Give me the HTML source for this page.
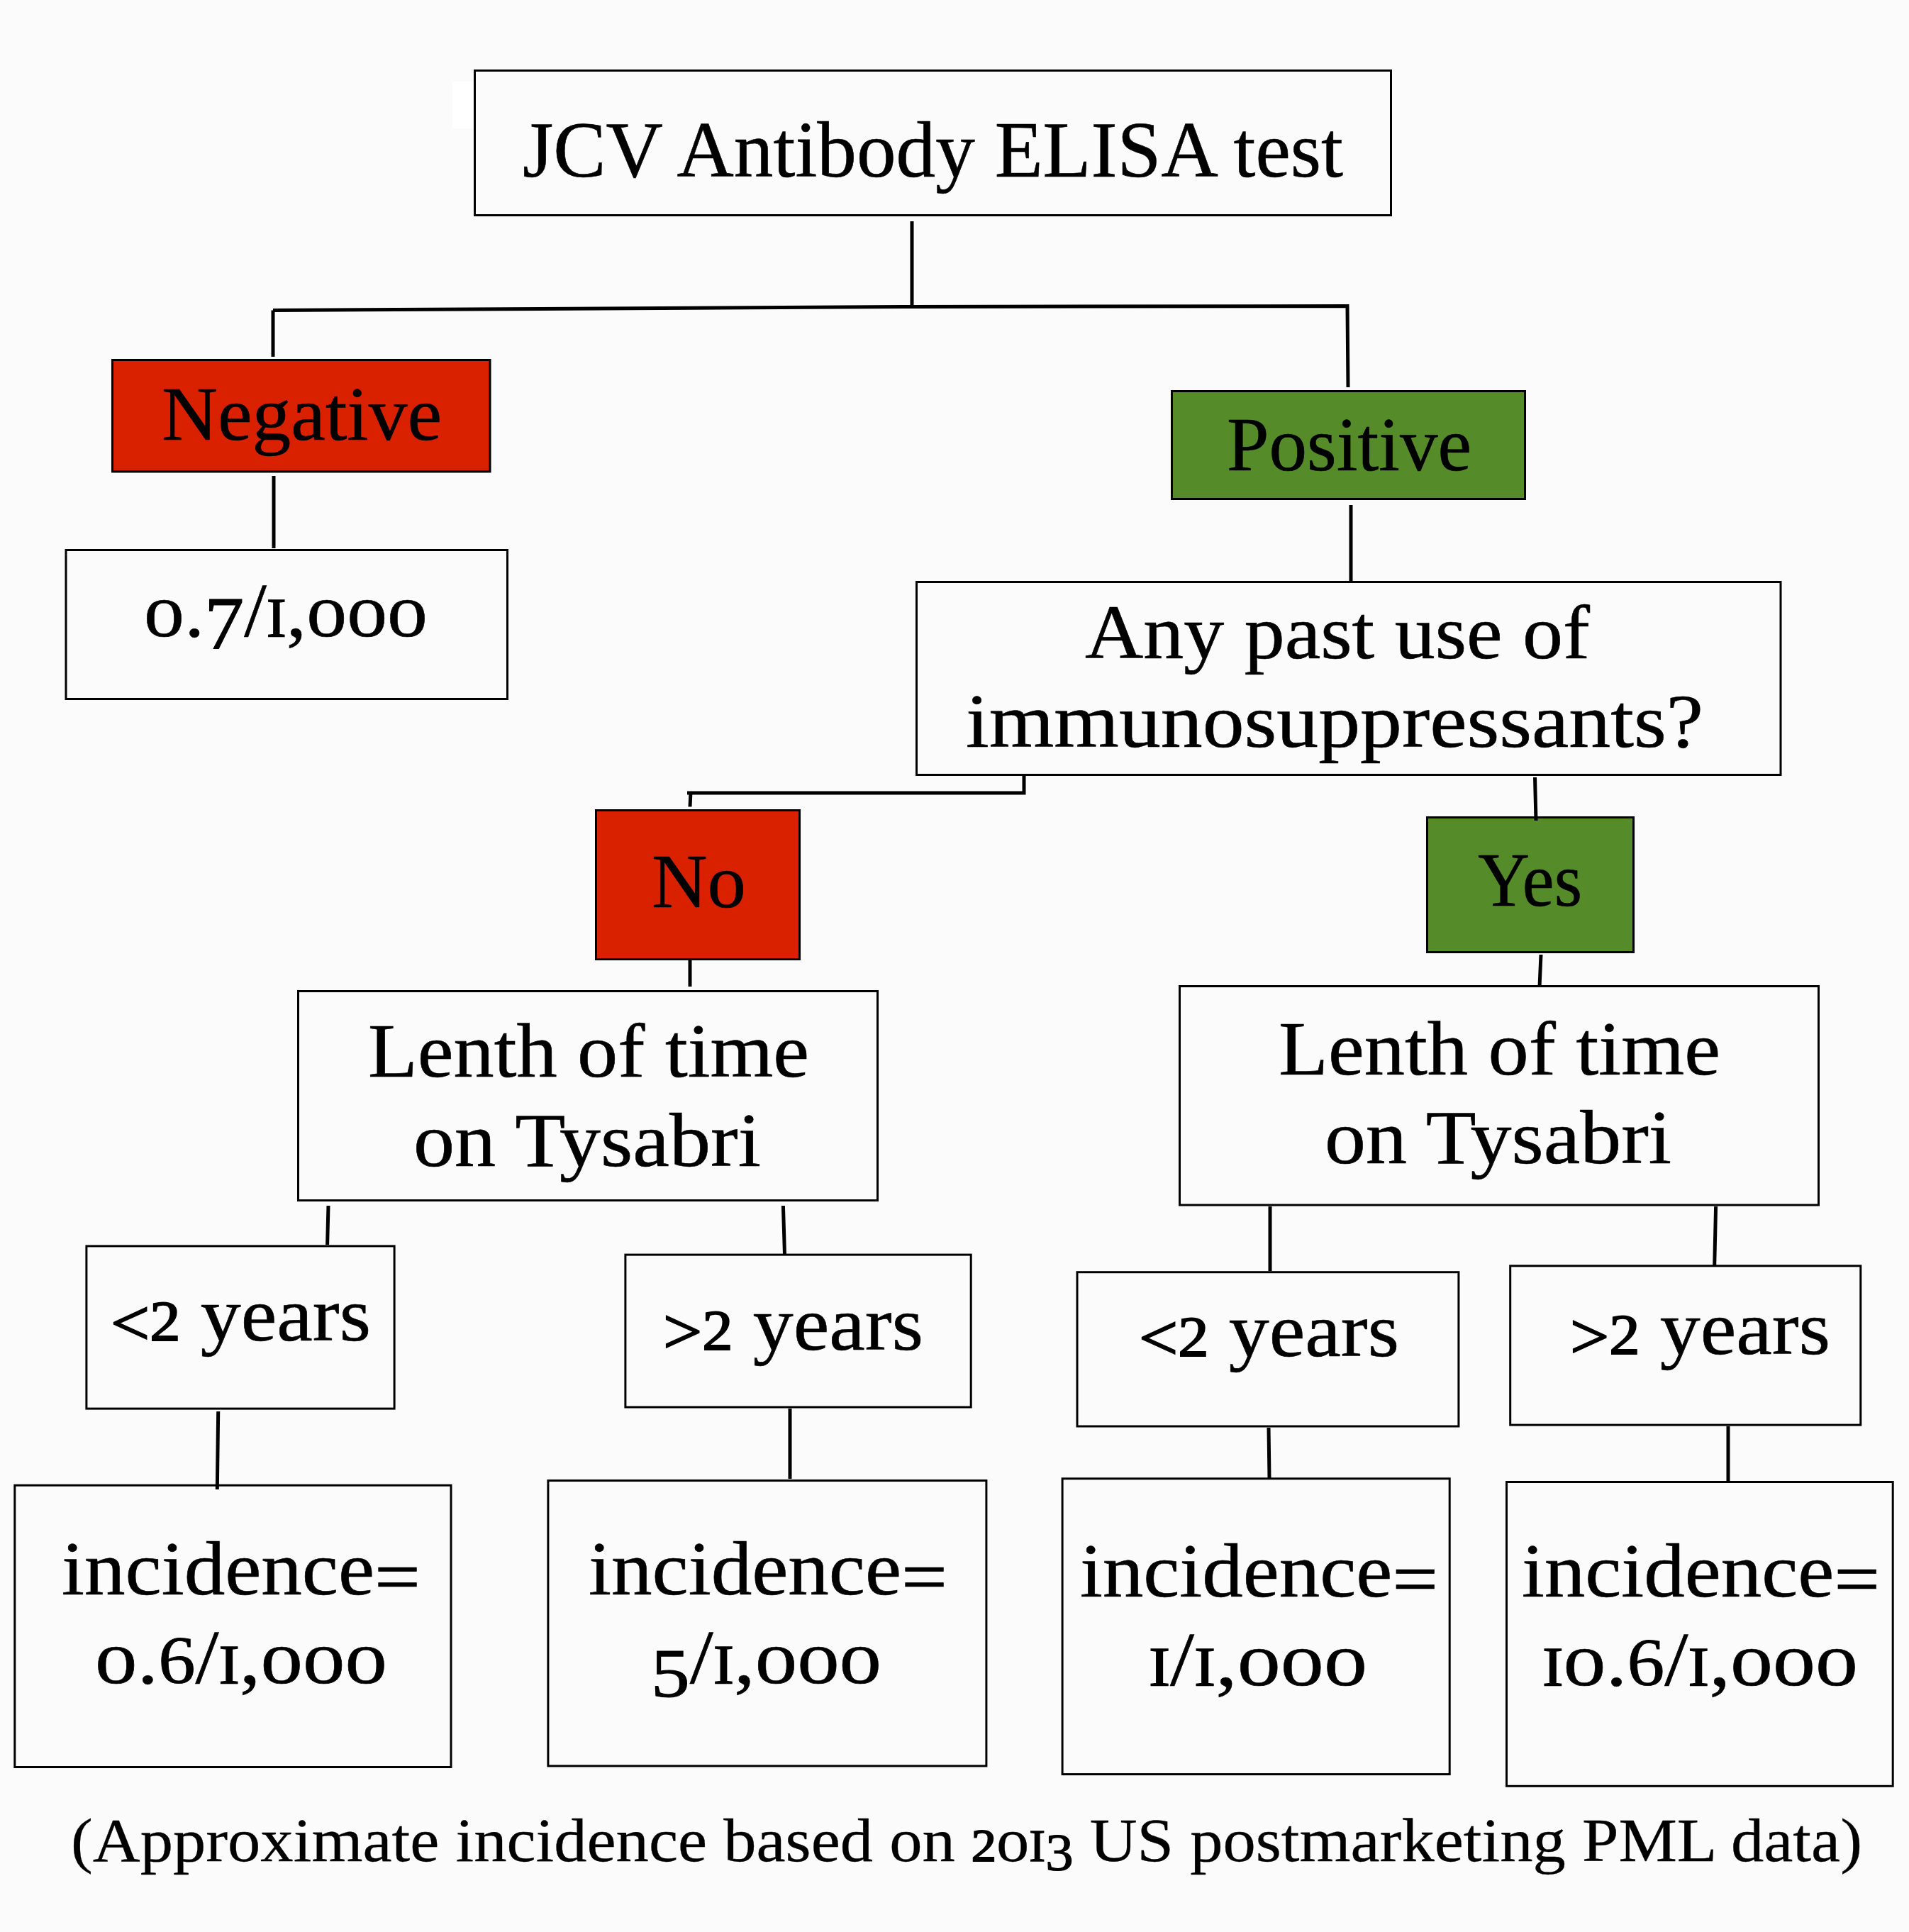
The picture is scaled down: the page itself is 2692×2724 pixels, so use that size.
<!DOCTYPE html>
<html><head><meta charset="utf-8"><title>JCV Antibody ELISA test</title>
<style>
html,body{margin:0;padding:0;background:#fbfbfb;}
body{width:2692px;height:2724px;overflow:hidden;}
svg{display:block;}
text{font-family:"Liberation Serif",serif;fill:#000;}
</style></head><body>
<svg width="2692" height="2724" viewBox="0 0 2692 2724">
<rect x="0" y="0" width="2692" height="2724" fill="#fbfbfb"/>
<rect x="638" y="115" width="30" height="66" fill="#ffffff"/>
<rect x="669.5" y="99.5" width="1292.0" height="204.0" fill="#fbfbfb" stroke="#000" stroke-width="3.0"/>
<rect x="158.5" y="507.5" width="532.5" height="157.5" fill="#d92100" stroke="#000" stroke-width="3.0"/>
<rect x="93.0" y="775.5" width="622.5" height="210.0" fill="#fbfbfb" stroke="#000" stroke-width="3.0"/>
<rect x="1652.5" y="551.5" width="498.0" height="152.0" fill="#558b29" stroke="#000" stroke-width="3.0"/>
<rect x="1292.5" y="820.5" width="1218.5" height="272.0" fill="#fbfbfb" stroke="#000" stroke-width="3.0"/>
<rect x="840.5" y="1142.5" width="287.0" height="210.0" fill="#d92100" stroke="#000" stroke-width="3.0"/>
<rect x="2012.5" y="1152.5" width="291.0" height="190.0" fill="#558b29" stroke="#000" stroke-width="3.0"/>
<rect x="420.5" y="1397.5" width="817.0" height="295.0" fill="#fbfbfb" stroke="#000" stroke-width="3.0"/>
<rect x="1663.5" y="1390.5" width="901.0" height="308.5" fill="#fbfbfb" stroke="#000" stroke-width="3.0"/>
<rect x="121.9" y="1756.9" width="434.2" height="229.2" fill="#fbfbfb" stroke="#000" stroke-width="3.0"/>
<rect x="881.9" y="1769.1" width="487.3" height="214.9" fill="#fbfbfb" stroke="#000" stroke-width="3.0"/>
<rect x="1519.0" y="1793.7" width="537.9" height="217.3" fill="#fbfbfb" stroke="#000" stroke-width="3.0"/>
<rect x="2129.7" y="1784.8" width="494.1" height="224.3" fill="#fbfbfb" stroke="#000" stroke-width="3.0"/>
<rect x="20.8" y="2094.2" width="615.2" height="397.3" fill="#fbfbfb" stroke="#000" stroke-width="3.0"/>
<rect x="772.9" y="2087.5" width="618.0" height="402.4" fill="#fbfbfb" stroke="#000" stroke-width="3.0"/>
<rect x="1498.1" y="2084.8" width="546.1" height="416.8" fill="#fbfbfb" stroke="#000" stroke-width="3.0"/>
<rect x="2124.5" y="2089.5" width="544.7" height="428.8" fill="#fbfbfb" stroke="#000" stroke-width="3.0"/>
<polyline points="1286,312 1286,433" fill="none" stroke="#000" stroke-width="5" stroke-linejoin="miter" stroke-linecap="butt"/>
<polyline points="385,437.5 1286,432.5 1900,431.5 1901,546" fill="none" stroke="#000" stroke-width="5" stroke-linejoin="miter" stroke-linecap="butt"/>
<polyline points="385,437.5 385,503" fill="none" stroke="#000" stroke-width="5" stroke-linejoin="miter" stroke-linecap="butt"/>
<polyline points="386,671 386,773" fill="none" stroke="#000" stroke-width="5" stroke-linejoin="miter" stroke-linecap="butt"/>
<polyline points="1905,712 1905,822" fill="none" stroke="#000" stroke-width="5" stroke-linejoin="miter" stroke-linecap="butt"/>
<polyline points="1444,1094 1444,1118 969,1118" fill="none" stroke="#000" stroke-width="5" stroke-linejoin="miter" stroke-linecap="butt"/>
<polyline points="974,1116 973,1137.5" fill="none" stroke="#000" stroke-width="5" stroke-linejoin="miter" stroke-linecap="butt"/>
<polyline points="2164.5,1096 2166,1157" fill="none" stroke="#000" stroke-width="5" stroke-linejoin="miter" stroke-linecap="butt"/>
<polyline points="973,1354 973,1391" fill="none" stroke="#000" stroke-width="5" stroke-linejoin="miter" stroke-linecap="butt"/>
<polyline points="2173,1346 2171,1391" fill="none" stroke="#000" stroke-width="5" stroke-linejoin="miter" stroke-linecap="butt"/>
<polyline points="463,1700 461.6,1755" fill="none" stroke="#000" stroke-width="5" stroke-linejoin="miter" stroke-linecap="butt"/>
<polyline points="1104.4,1700 1106.5,1768" fill="none" stroke="#000" stroke-width="5" stroke-linejoin="miter" stroke-linecap="butt"/>
<polyline points="1791,1701 1791,1792" fill="none" stroke="#000" stroke-width="5" stroke-linejoin="miter" stroke-linecap="butt"/>
<polyline points="2419.6,1701 2417.7,1784" fill="none" stroke="#000" stroke-width="5" stroke-linejoin="miter" stroke-linecap="butt"/>
<polyline points="307.7,1990 306.3,2100" fill="none" stroke="#000" stroke-width="5" stroke-linejoin="miter" stroke-linecap="butt"/>
<polyline points="1114,1986 1114,2085" fill="none" stroke="#000" stroke-width="5" stroke-linejoin="miter" stroke-linecap="butt"/>
<polyline points="1789,2013 1790,2084" fill="none" stroke="#000" stroke-width="5" stroke-linejoin="miter" stroke-linecap="butt"/>
<polyline points="2437,2011 2437,2088" fill="none" stroke="#000" stroke-width="5" stroke-linejoin="miter" stroke-linecap="butt"/>
<text x="737.0" y="248.7" font-size="112" textLength="1157.0" lengthAdjust="spacingAndGlyphs" stroke="#000" stroke-width="0.6"><tspan>JCV Antibody ELISA test</tspan></text>
<text x="228.0" y="620.1" font-size="107" textLength="395.0" lengthAdjust="spacingAndGlyphs" stroke="#000" stroke-width="0.6"><tspan>Negative</tspan></text>
<text x="203.0" y="896.8" font-size="107" textLength="400.0" lengthAdjust="spacingAndGlyphs" stroke="#000" stroke-width="0.6"><tspan>o.</tspan><tspan font-size="104.9" dy="18.2" stroke-width="1.2">7</tspan><tspan dy="-18.2">/</tspan><tspan font-size="79.2" stroke-width="1.4">I</tspan><tspan>,ooo</tspan></text>
<text x="1730.0" y="663.1" font-size="107" textLength="345.0" lengthAdjust="spacingAndGlyphs" stroke="#000" stroke-width="0.6"><tspan>Positive</tspan></text>
<text x="1530.0" y="928.1" font-size="107" textLength="712.0" lengthAdjust="spacingAndGlyphs" stroke="#000" stroke-width="0.6"><tspan>Any past use of</tspan></text>
<text x="1362.0" y="1053.3" font-size="107" textLength="1040.0" lengthAdjust="spacingAndGlyphs" stroke="#000" stroke-width="0.6"><tspan>immunosuppressants?</tspan></text>
<text x="919.0" y="1279.2" font-size="107" textLength="133.0" lengthAdjust="spacingAndGlyphs" stroke="#000" stroke-width="0.6"><tspan>No</tspan></text>
<text x="2084.0" y="1276.5" font-size="107" textLength="147.0" lengthAdjust="spacingAndGlyphs" stroke="#000" stroke-width="0.6"><tspan>Yes</tspan></text>
<text x="519.0" y="1518.4" font-size="107" textLength="622.0" lengthAdjust="spacingAndGlyphs" stroke="#000" stroke-width="0.6"><tspan>Lenth of time</tspan></text>
<text x="583.0" y="1643.9" font-size="107" textLength="490.0" lengthAdjust="spacingAndGlyphs" stroke="#000" stroke-width="0.6"><tspan>on Tysabri</tspan></text>
<text x="1803.0" y="1515" font-size="107" textLength="623.0" lengthAdjust="spacingAndGlyphs" stroke="#000" stroke-width="0.6"><tspan>Lenth of time</tspan></text>
<text x="1868.0" y="1640" font-size="107" textLength="489.0" lengthAdjust="spacingAndGlyphs" stroke="#000" stroke-width="0.6"><tspan>on Tysabri</tspan></text>
<text x="156.0" y="1889.6" font-size="107" textLength="367.0" lengthAdjust="spacingAndGlyphs" stroke="#000" stroke-width="0.6"><tspan font-size="92.0" dy="5.9" stroke-width="2.0">&lt;</tspan><tspan font-size="81.3" dy="-5.9" stroke-width="2.0">2</tspan><tspan> years</tspan></text>
<text x="935.0" y="1902.5" font-size="107" textLength="367.0" lengthAdjust="spacingAndGlyphs" stroke="#000" stroke-width="0.6"><tspan font-size="92.0" dy="5.9" stroke-width="2.0">&gt;</tspan><tspan font-size="81.3" dy="-5.9" stroke-width="2.0">2</tspan><tspan> years</tspan></text>
<text x="1606.0" y="1911.5" font-size="107" textLength="367.0" lengthAdjust="spacingAndGlyphs" stroke="#000" stroke-width="0.6"><tspan font-size="92.0" dy="5.9" stroke-width="2.0">&lt;</tspan><tspan font-size="81.3" dy="-5.9" stroke-width="2.0">2</tspan><tspan> years</tspan></text>
<text x="2214.0" y="1909" font-size="107" textLength="367.0" lengthAdjust="spacingAndGlyphs" stroke="#000" stroke-width="0.6"><tspan font-size="92.0" dy="5.9" stroke-width="2.0">&gt;</tspan><tspan font-size="81.3" dy="-5.9" stroke-width="2.0">2</tspan><tspan> years</tspan></text>
<text x="87.0" y="2247.9" font-size="107" textLength="506.0" lengthAdjust="spacingAndGlyphs" stroke="#000" stroke-width="0.6"><tspan>incidence</tspan><tspan dy="10.7">=</tspan></text>
<text x="134.0" y="2372.7" font-size="107" textLength="412.0" lengthAdjust="spacingAndGlyphs" stroke="#000" stroke-width="0.6"><tspan>o.</tspan><tspan font-size="94.2" stroke-width="0.8">6</tspan><tspan>/</tspan><tspan font-size="79.2" stroke-width="1.4">I</tspan><tspan>,ooo</tspan></text>
<text x="830.0" y="2248" font-size="107" textLength="506.0" lengthAdjust="spacingAndGlyphs" stroke="#000" stroke-width="0.6"><tspan>incidence</tspan><tspan dy="10.7">=</tspan></text>
<text x="918.0" y="2372.5" font-size="107" textLength="325.0" lengthAdjust="spacingAndGlyphs" stroke="#000" stroke-width="0.6"><tspan font-size="98.4" dy="19.3" stroke-width="1.1">5</tspan><tspan dy="-19.3">/</tspan><tspan font-size="79.2" stroke-width="1.4">I</tspan><tspan>,ooo</tspan></text>
<text x="1523.0" y="2251" font-size="107" textLength="505.0" lengthAdjust="spacingAndGlyphs" stroke="#000" stroke-width="0.6"><tspan>incidence</tspan><tspan dy="10.7">=</tspan></text>
<text x="1620.0" y="2375.7" font-size="107" textLength="308.0" lengthAdjust="spacingAndGlyphs" stroke="#000" stroke-width="0.6"><tspan font-size="79.2" stroke-width="1.4">I</tspan><tspan>/</tspan><tspan font-size="79.2" stroke-width="1.4">I</tspan><tspan>,ooo</tspan></text>
<text x="2146.0" y="2251.1" font-size="107" textLength="505.0" lengthAdjust="spacingAndGlyphs" stroke="#000" stroke-width="0.6"><tspan>incidence</tspan><tspan dy="10.7">=</tspan></text>
<text x="2175.0" y="2376" font-size="107" textLength="445.0" lengthAdjust="spacingAndGlyphs" stroke="#000" stroke-width="0.6"><tspan font-size="79.2" stroke-width="1.4">I</tspan><tspan>o.</tspan><tspan font-size="94.2" stroke-width="0.8">6</tspan><tspan>/</tspan><tspan font-size="79.2" stroke-width="1.4">I</tspan><tspan>,ooo</tspan></text>
<text x="100.0" y="2624.2" font-size="87" textLength="2526.0" lengthAdjust="spacingAndGlyphs" stroke="#000" stroke-width="0.3"><tspan>(Approximate incidence based on </tspan><tspan font-size="66.1" stroke-width="2.0">2</tspan><tspan>o</tspan><tspan font-size="64.4" stroke-width="1.4">I</tspan><tspan font-size="74.0" dy="13.0" stroke-width="1.2">3</tspan><tspan dy="-13.0"> US postmarketing PML data)</tspan></text>
</svg></body></html>
